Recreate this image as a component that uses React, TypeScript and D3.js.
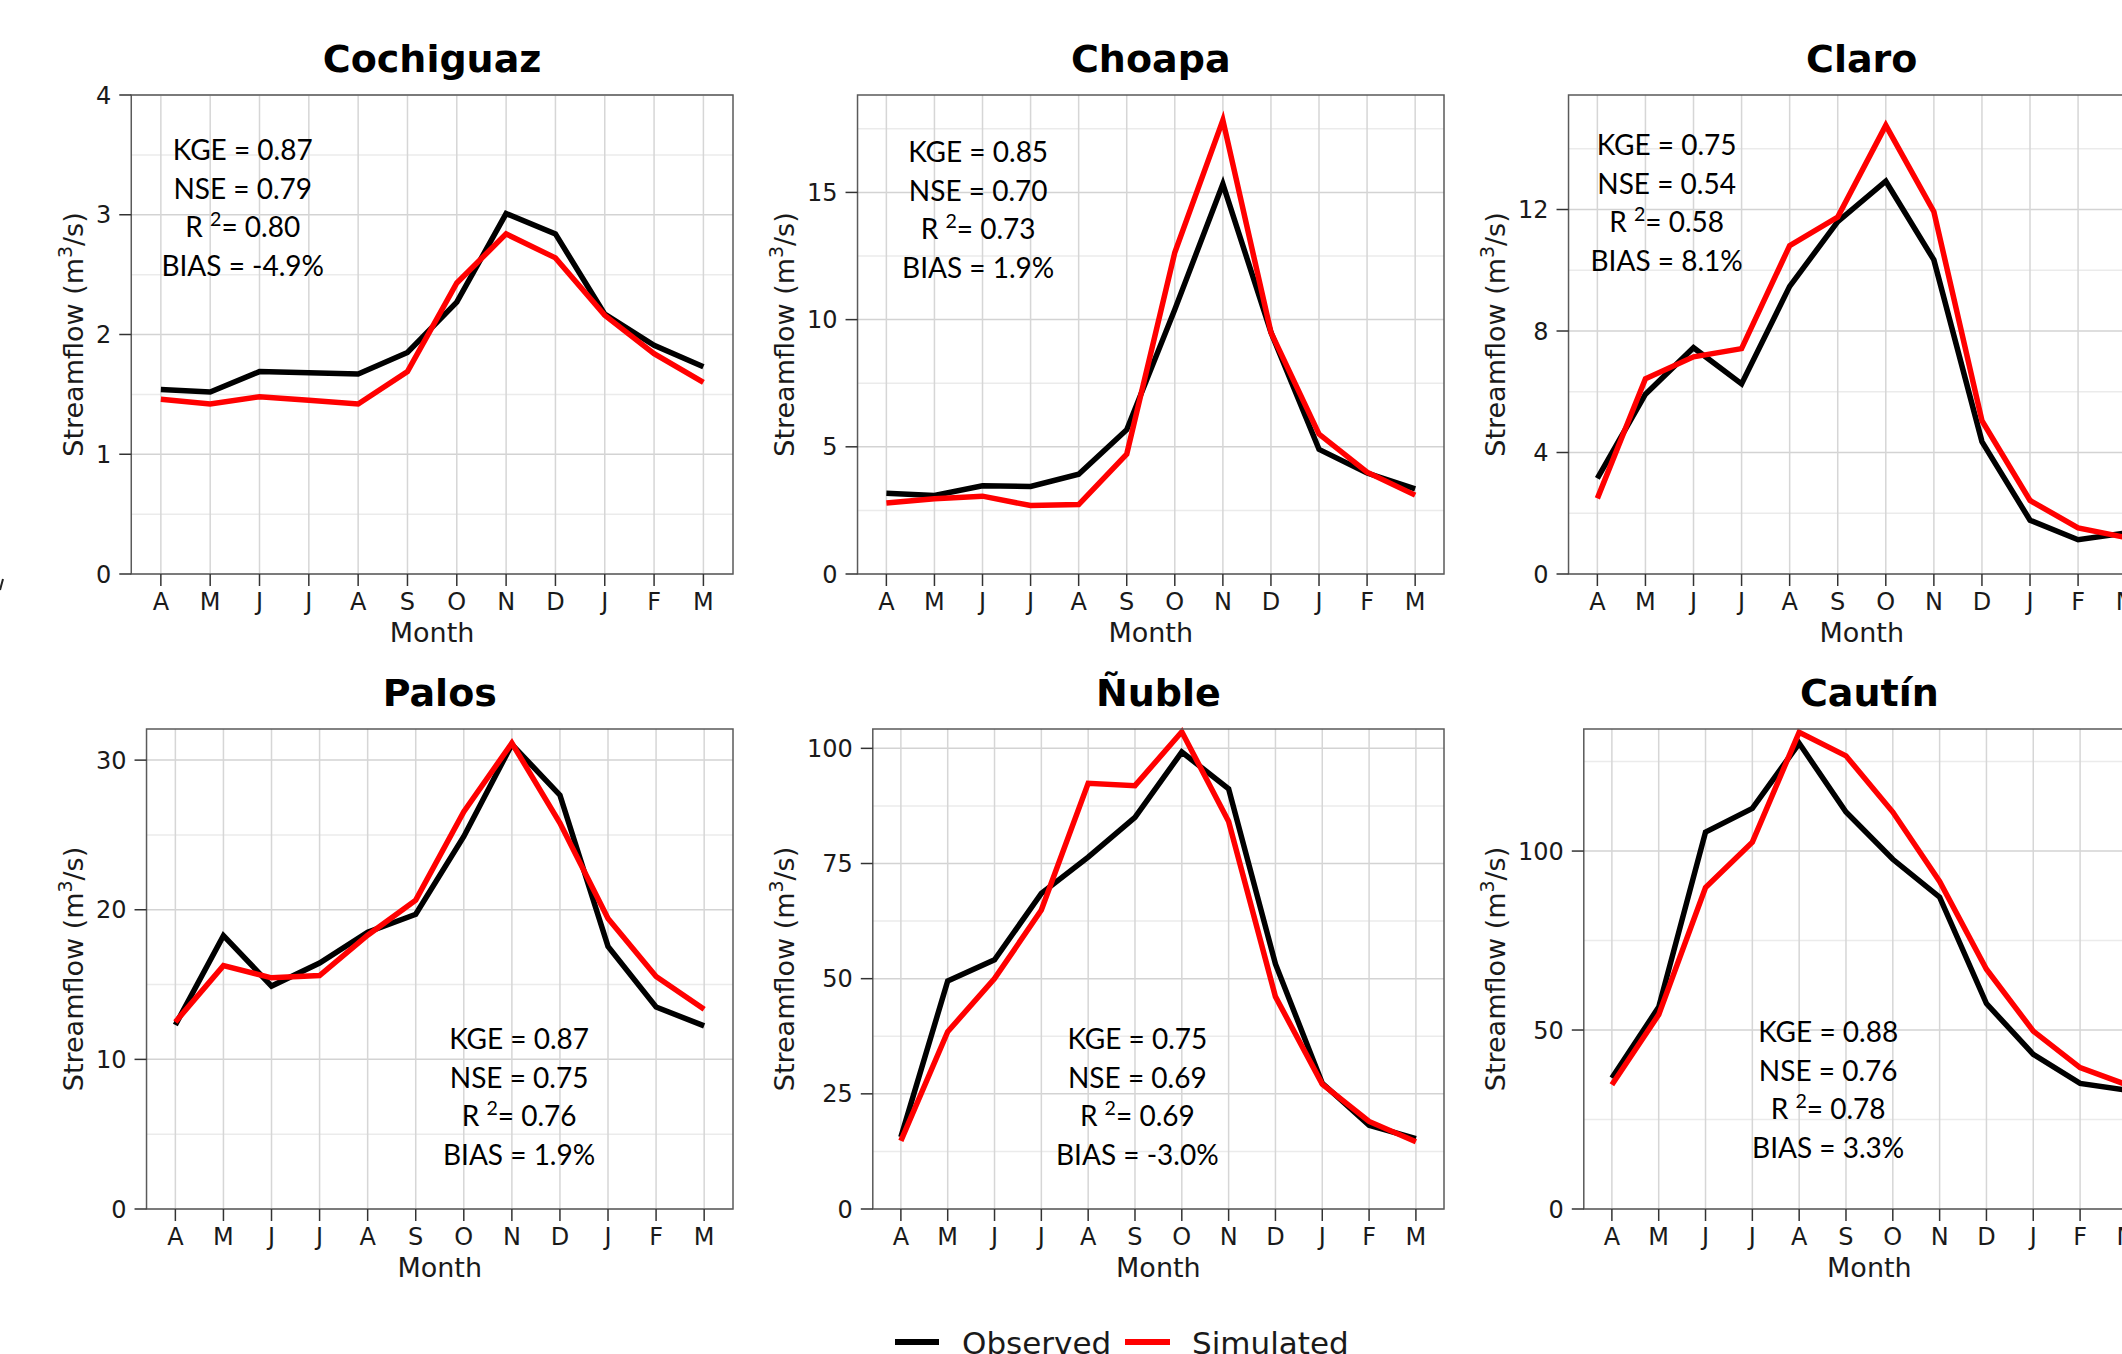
import React from 'react';
import * as d3 from 'd3';

// ---------- data ----------
const months = ["A", "M", "J", "J", "A", "S", "O", "N", "D", "J", "F", "M"];
const stations = ["Cochiguaz", "Choapa", "Claro", "Palos", "Ñuble", "Cautín"];

const obsCochiguaz = [1.54, 1.52, 1.69, 1.68, 1.67, 1.85, 2.27, 3.01, 2.84, 2.17, 1.91, 1.73];
const simCochiguaz = [1.46, 1.42, 1.48, 1.45, 1.42, 1.69, 2.43, 2.84, 2.64, 2.16, 1.84, 1.60];
const obsChoapa = [3.17, 3.09, 3.47, 3.44, 3.92, 5.67, 10.4, 15.33, 9.5, 4.9, 3.97, 3.35];
const simChoapa = [2.79, 2.96, 3.06, 2.69, 2.73, 4.71, 12.64, 17.84, 9.5, 5.5, 4.0, 3.1];
const obsClaro = [3.15, 5.92, 7.45, 6.26, 9.47, 11.6, 12.93, 10.34, 4.36, 1.77, 1.13, 1.35];
const simClaro = [2.49, 6.43, 7.15, 7.42, 10.81, 11.75, 14.77, 11.93, 5.05, 2.42, 1.52, 1.2];
const obsPalos = [12.3, 18.27, 14.9, 16.44, 18.5, 19.7, 24.9, 31.05, 27.66, 17.55, 13.5, 12.24];
const simPalos = [12.5, 16.26, 15.45, 15.6, 18.3, 20.64, 26.55, 31.14, 25.8, 19.41, 15.54, 13.35];
const obsNuble = [15.6, 49.5, 54.1, 68.5, 76.4, 85.0, 99.2, 91.2, 53.2, 27.3, 18.2, 15.3];
const simNuble = [14.8, 38.5, 50.0, 64.9, 92.4, 91.9, 103.6, 84.1, 46.1, 27.1, 19.0, 14.6];
const obsCautin = [36.6, 56.4, 105.3, 111.9, 130.1, 110.9, 97.7, 87.1, 57.4, 43.2, 35.1, 33.2];
const simCautin = [34.7, 54.3, 89.8, 102.5, 133.2, 126.6, 110.9, 91.5, 67.0, 49.7, 39.5, 34.7];

const observedSeries = [obsCochiguaz, obsChoapa, obsClaro, obsPalos, obsNuble, obsCautin];
const simulatedSeries = [simCochiguaz, simChoapa, simClaro, simPalos, simNuble, simCautin];

const yMaxes = [4, 18.83, 15.77, 32.08, 104.2, 134.1];
const yTicksCochiguaz = [0, 1, 2, 3, 4];
const yTicksChoapa = [0, 5, 10, 15];
const yTicksClaro = [0, 4, 8, 12];
const yTicksPalos = [0, 10, 20, 30];
const yTicksNuble = [0, 25, 50, 75, 100];
const yTicksCautin = [0, 50, 100];
const yTickSets = [yTicksCochiguaz, yTicksChoapa, yTicksClaro, yTicksPalos, yTicksNuble, yTicksCautin];

const kgeValues = ["0.87", "0.85", "0.75", "0.87", "0.75", "0.88"];
const nseValues = ["0.79", "0.70", "0.54", "0.75", "0.69", "0.76"];
const r2Values = ["0.80", "0.73", "0.58", "0.76", "0.69", "0.78"];
const biasValues = ["-4.9%", "1.9%", "8.1%", "1.9%", "-3.0%", "3.3%"];

const legendLabels = ["Observed", "Simulated"];

// ---------- layout / style ----------
const W = 2122;
const H = 1354;
const colX0 = [0, 711, 1422];
const rowTop = [95, 729];
const rowBottom = [574, 1209];
const panelRightOffset = 733;
const yTitleOffset = 83;
const tickFont = 24;
const axisTitleFont = 27;
const titleFont = 38;
const statFont = 28;
const statLineGap = 38.6;
// stats text anchor: [x in month-index units, baseline offset from panel top]
const statPos = [[1.66, 65], [1.91, 67], [1.44, 60], [7.15, 320], [5.05, 320], [4.62, 313]];

const SANS = "'DejaVu Sans', Verdana, sans-serif";
const STATF = "Lato, 'Open Sans', sans-serif";
const OBS_COLOR = "#000000";
const SIM_COLOR = "#ff0000";
const SERIES_WIDTH = 5.5;

function Panel({ idx }: { idx: number }) {
  const col = idx % 3;
  const row = Math.floor(idx / 3);
  const ticks = yTickSets[idx];
  const maxChars = d3.max(ticks, (t) => String(t).length) || 1;
  const labelW = maxChars * 0.636 * tickFont;
  const titleX = colX0[col] + yTitleOffset;
  const left = titleX + 13 + labelW + 20;
  const right = colX0[col] + panelRightOffset;
  const top = rowTop[row];
  const bottom = rowBottom[row];

  const x = d3.scaleLinear().domain([-0.6, 11.6]).range([left, right]);
  const y = d3.scaleLinear().domain([0, yMaxes[idx]]).range([bottom, top]);
  const step = ticks[1] - ticks[0];
  const minor = d3.range(step / 2, yMaxes[idx], step);

  const line = d3.line<number>().x((_, i) => x(i)).y((d) => y(d));
  const cy = (top + bottom) / 2;
  const [sxi, syo] = statPos[idx];
  const sx = x(sxi);
  const sy = top + syo;

  return (
    <g>
      {minor.map((m, i) => (
        <line key={'mn' + i} x1={left} x2={right} y1={y(m)} y2={y(m)} stroke="#ebebeb" strokeWidth={1.5} />
      ))}
      {ticks.map((t, i) => (
        <line key={'mj' + i} x1={left} x2={right} y1={y(t)} y2={y(t)} stroke="#d3d3d3" strokeWidth={1.5} />
      ))}
      {months.map((_, i) => (
        <line key={'vg' + i} x1={x(i)} x2={x(i)} y1={top} y2={bottom} stroke="#d6d6d6" strokeWidth={1.5} />
      ))}
      <g fontFamily={STATF} fontSize={statFont} fill="#000" textAnchor="middle">
        <text x={sx} y={sy}>{`KGE = ${kgeValues[idx]}`}</text>
        <text x={sx} y={sy + statLineGap}>{`NSE = ${nseValues[idx]}`}</text>
        <text x={sx} y={sy + statLineGap * 2}>
          {'R '}
          <tspan fontSize={statFont * 0.7} dy={-11}>2</tspan>
          <tspan dy={11}>{`= ${r2Values[idx]}`}</tspan>
        </text>
        <text x={sx} y={sy + statLineGap * 3}>{`BIAS = ${biasValues[idx]}`}</text>
      </g>
      <path d={line(observedSeries[idx]) || ''} fill="none" stroke={OBS_COLOR} strokeWidth={SERIES_WIDTH} strokeLinejoin="miter" />
      <path d={line(simulatedSeries[idx]) || ''} fill="none" stroke={SIM_COLOR} strokeWidth={SERIES_WIDTH} strokeLinejoin="miter" />
      <rect x={left} y={top} width={right - left} height={bottom - top} fill="none" stroke="#5a5a5a" strokeWidth={1.5} />
      {ticks.map((t, i) => (
        <g key={'yt' + i}>
          <line x1={left - 12} x2={left} y1={y(t)} y2={y(t)} stroke="#333" strokeWidth={1.5} />
          <text x={left - 20} y={y(t)} dy="0.36em" textAnchor="end" fontFamily={SANS} fontSize={tickFont} fill="#1a1a1a">{t}</text>
        </g>
      ))}
      {months.map((m, i) => (
        <g key={'xt' + i}>
          <line x1={x(i)} x2={x(i)} y1={bottom} y2={bottom + 12} stroke="#333" strokeWidth={1.5} />
          <text x={x(i)} y={bottom + 36} textAnchor="middle" fontFamily={SANS} fontSize={tickFont} fill="#1a1a1a">{m}</text>
        </g>
      ))}
      <text x={(left + right) / 2} y={bottom + 68} textAnchor="middle" fontFamily={SANS} fontSize={axisTitleFont} fill="#1a1a1a">Month</text>
      <text transform={`translate(${titleX},${cy}) rotate(-90)`} textAnchor="middle" fontFamily={SANS} fontSize={axisTitleFont} fill="#1a1a1a">
        {'Streamflow (m'}
        <tspan fontSize={axisTitleFont * 0.7} dy={-11}>3</tspan>
        <tspan dy={11}>{'/s)'}</tspan>
      </text>
      <text x={(left + right) / 2} y={top - 23} textAnchor="middle" fontFamily={SANS} fontWeight="bold" fontSize={titleFont} fill="#000">{stations[idx]}</text>
    </g>
  );
}

function Legend() {
  const ly = 1342;
  const items = [
    { x1: 895, x2: 939, tx: 962, color: OBS_COLOR },
    { x1: 1125, x2: 1170, tx: 1192, color: SIM_COLOR },
  ];
  return (
    <g>
      {items.map((it, i) => (
        <g key={i}>
          <line x1={it.x1} x2={it.x2} y1={ly} y2={ly} stroke={it.color} strokeWidth={6} />
          <text x={it.tx} y={1354} fontFamily={SANS} fontSize={31} fill="#1a1a1a">{legendLabels[i]}</text>
        </g>
      ))}
    </g>
  );
}

export default function App() {
  return (
    <svg width={W} height={H} viewBox={`0 0 ${W} ${H}`} style={{ position: 'absolute', left: 0, top: 0, background: '#fff', overflow: 'hidden' }}>
      <rect x={0} y={0} width={W} height={H} fill="#fff" />
      {stations.map((_, i) => (
        <Panel key={i} idx={i} />
      ))}
      <Legend />
      {/* small clipped fragment at the left edge, as in the reference */}
      <path d="M0,590 L3,579" stroke="#222" strokeWidth={2} fill="none" />
    </svg>
  );
}
